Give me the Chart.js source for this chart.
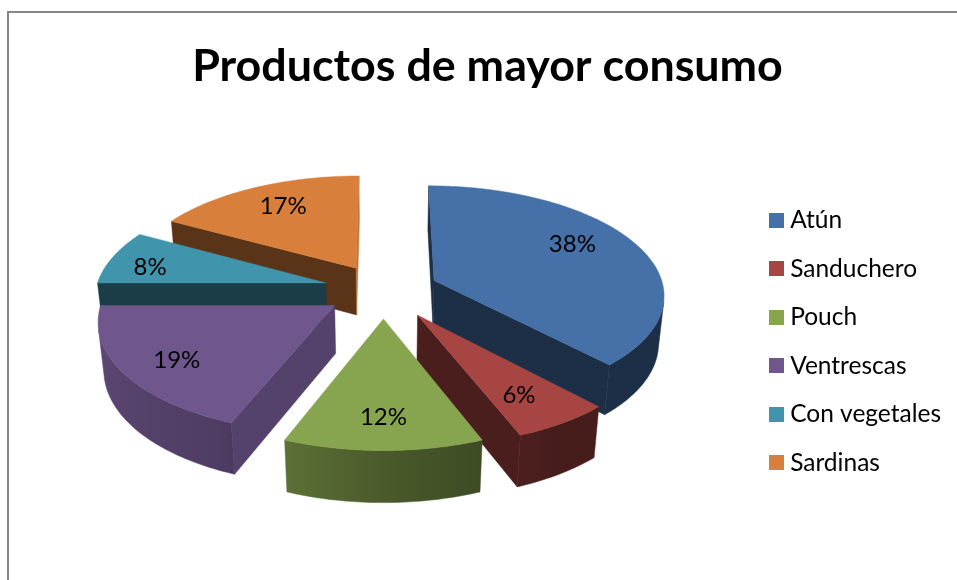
<!DOCTYPE html>
<html>
<head>
<meta charset="utf-8">
<title>Productos de mayor consumo</title>
<script src="https://cdn.jsdelivr.net/npm/chart.js@4"></script>
<style>
  html, body { margin: 0; height: 100%; background: #fff; overflow: hidden; }
  #frame {
    position: absolute; left: 7px; top: 11px; width: 960px; height: 580px;
    border-left: 2px solid #868686; border-top: 2px solid #868686;
  }
  canvas { display: block; }
</style>
</head>
<body>
<div id="frame"><canvas id="myChart" width="957" height="568"></canvas></div>
<script>
const categories = ['Atún', 'Sanduchero', 'Pouch', 'Ventrescas', 'Con vegetales', 'Sardinas'];
const shares = [38, 6, 12, 19, 8, 17];
const colors = ['#4570A8', '#A64541', '#87A44E', '#6F568C', '#4095AD', '#D87F3B'];
const explode = [55, 62, 60, 58, 60, 55];
// brightness of the cut faces of each slice, at its start and end edge
const startShade = [0.42, 0.44, 0.5, 0.77, 0.41, 0.41];
const endShade = [0.42, 0.44, 0.5, 0.77, 0.41, 0.9];
// where each percentage sits: share of the radius, and a small drop in pixels
const labelAt = [0.68, 0.72, 0.75, 0.76, 0.82, 0.7];
const labelDrop = [-10, 5, 3, 4, 6, -4];

const view = { shiftX: -4, shiftY: -51.5, tilt: 0.47, persp: 0.12, sink: 0.02, depth: 48.5 };

// brightness of the rim, by clockwise angle from the top
const rimStops = [[0, 0.42], [150, 0.42], [180, 0.55], [205, 0.71], [270, 0.87], [360, 0.87]];

function rimShade(deg) {
  for (let i = 1; i < rimStops.length; i++) {
    if (deg <= rimStops[i][0]) {
      const a = rimStops[i - 1], b = rimStops[i];
      return a[1] + (b[1] - a[1]) * (deg - a[0]) / (b[0] - a[0]);
    }
  }
  return 0.87;
}

function shade(hex, k) {
  const n = parseInt(hex.slice(1), 16);
  const r = Math.round((n >> 16) * k), g = Math.round(((n >> 8) & 255) * k), b = Math.round((n & 255) * k);
  return `rgb(${r},${g},${b})`;
}

// legend swatch, kept closer to its text than the default box spacing
function swatch(color) {
  const s = document.createElement('canvas');
  s.width = s.height = 15;
  const g = s.getContext('2d');
  g.fillStyle = color;
  g.fillRect(0, 0, 15, 15);
  return s;
}

function poly(ctx, pts, fill) {
  ctx.beginPath();
  pts.forEach((p, i) => i ? ctx.lineTo(p[0], p[1]) : ctx.moveTo(p[0], p[1]));
  ctx.closePath();
  ctx.fillStyle = fill;
  ctx.fill();
  // closes the hairline gaps between neighbouring faces
  ctx.strokeStyle = fill;
  ctx.lineWidth = 0.5;
  ctx.stroke();
}

// signed area on screen, used to skip faces turned away from the viewer
function area(pts) {
  let sum = 0;
  pts.forEach((p, i) => {
    const q = pts[(i + 1) % pts.length];
    sum += p[0] * q[1] - q[0] * p[1];
  });
  return sum;
}

// Redraws the pie's arcs as exploded solid wedges seen in perspective.
const solidPie = {
  id: 'solidPie',
  beforeDatasetDraw(chart, args) {
    const ctx = chart.ctx;
    const arcs = args.meta.data;

    const project = (arc, x, y, z) => {
      const R = arc.outerRadius;
      const w = 1 + view.persp * y + view.sink * z;
      return [
        arc.x + view.shiftX + R * x / w,
        arc.y + view.shiftY - view.tilt * R * y / w + view.depth * z / w
      ];
    };
    const pointOn = (arc, angle, rho, z) => {
      const mid = (arc.startAngle + arc.endAngle) / 2;
      const e = arc.options.offset / arc.outerRadius;
      return project(arc, rho * Math.cos(angle) + e * Math.cos(mid), -(rho * Math.sin(angle) + e * Math.sin(mid)), z);
    };

    // back slices first
    const order = arcs.map((_, i) => i).sort((a, b) => {
      const mid = i => (arcs[i].startAngle + arcs[i].endAngle) / 2;
      return Math.sin(mid(a)) * arcs[a].options.offset - Math.sin(mid(b)) * arcs[b].options.offset;
    });

    ctx.save();
    order.forEach(i => {
      const arc = arcs[i];
      const color = colors[i];
      const edge = angle => [
        pointOn(arc, angle, 0, 0), pointOn(arc, angle, 1, 0),
        pointOn(arc, angle, 1, 1), pointOn(arc, angle, 0, 1)
      ];
      const startFace = edge(arc.startAngle), endFace = edge(arc.endAngle);
      if (area(startFace) < 0) poly(ctx, startFace, shade(color, startShade[i]));
      if (area(endFace) > 0) poly(ctx, endFace, shade(color, endShade[i]));

      const steps = Math.ceil((arc.endAngle - arc.startAngle) * 60);
      const angles = [];
      for (let s = 0; s <= steps; s++) angles.push(arc.startAngle + (arc.endAngle - arc.startAngle) * s / steps);

      // front part of the rim, one polygon with a sideways gradient
      const seen = angles.filter((a, s) => {
        const b = angles[Math.min(s + 1, steps)], c = angles[Math.max(s - 1, 0)];
        const lo = Math.min(a, c), hi = Math.max(a, b);
        return area([pointOn(arc, lo, 1, 0), pointOn(arc, hi, 1, 0), pointOn(arc, hi, 1, 1), pointOn(arc, lo, 1, 1)]) < 0;
      });
      if (seen.length > 1) {
        const upper = seen.map(a => pointOn(arc, a, 1, 0));
        const lower = seen.map(a => pointOn(arc, a, 1, 1)).reverse();
        const xs = upper.map(p => p[0]);
        const minX = Math.min(...xs), maxX = Math.max(...xs);
        const fill = ctx.createLinearGradient(minX, 0, maxX, 0);
        seen.forEach((a, s) => {
          const deg = (a + Math.PI / 2) * 180 / Math.PI;
          fill.addColorStop((xs[s] - minX) / (maxX - minX), shade(color, rimShade(deg)));
        });
        poly(ctx, upper.concat(lower), fill);
      }

      const top = [pointOn(arc, arc.startAngle, 0, 0)].concat(angles.map(a => pointOn(arc, a, 1, 0)));
      poly(ctx, top, color);
    });

    ctx.fillStyle = '#000';
    ctx.font = '24px Lato';
    ctx.textAlign = 'center';
    ctx.textBaseline = 'middle';
    arcs.forEach((arc, i) => {
      const mid = (arc.startAngle + arc.endAngle) / 2;
      const p = pointOn(arc, mid, labelAt[i], 0);
      ctx.fillText(shares[i] + '%', p[0], p[1] + labelDrop[i]);
    });
    ctx.restore();
    return false;
  }
};

new Chart(document.getElementById('myChart'), {
  type: 'pie',
  data: {
    labels: categories,
    datasets: [{ data: shares, backgroundColor: colors, offset: explode, borderWidth: 0 }]
  },
  options: {
    responsive: false,
    animation: false,
    radius: 230,
    layout: { padding: { left: 15, right: 15, top: 0, bottom: 8 } },
    plugins: {
      tooltip: { enabled: false },
      title: {
        display: true,
        text: 'Productos de mayor consumo',
        color: '#000',
        font: { family: 'Lato', size: 44.8, weight: 'bold' },
        padding: { top: 27, bottom: 16 }
      },
      legend: {
        position: 'right',
        fullSize: false,
        labels: {
          color: '#000',
          font: { family: 'Lato', size: 24.5 },
          padding: 24,
          boxWidth: 3,
          boxHeight: 15,
          usePointStyle: true,
          pointStyleWidth: 3,
          generateLabels: chart => chart.data.labels.map((text, index) => ({
            text, index, fillStyle: colors[index], lineWidth: 0, pointStyle: swatch(colors[index])
          }))
        }
      }
    }
  },
  plugins: [solidPie]
});
</script>
</body>
</html>
